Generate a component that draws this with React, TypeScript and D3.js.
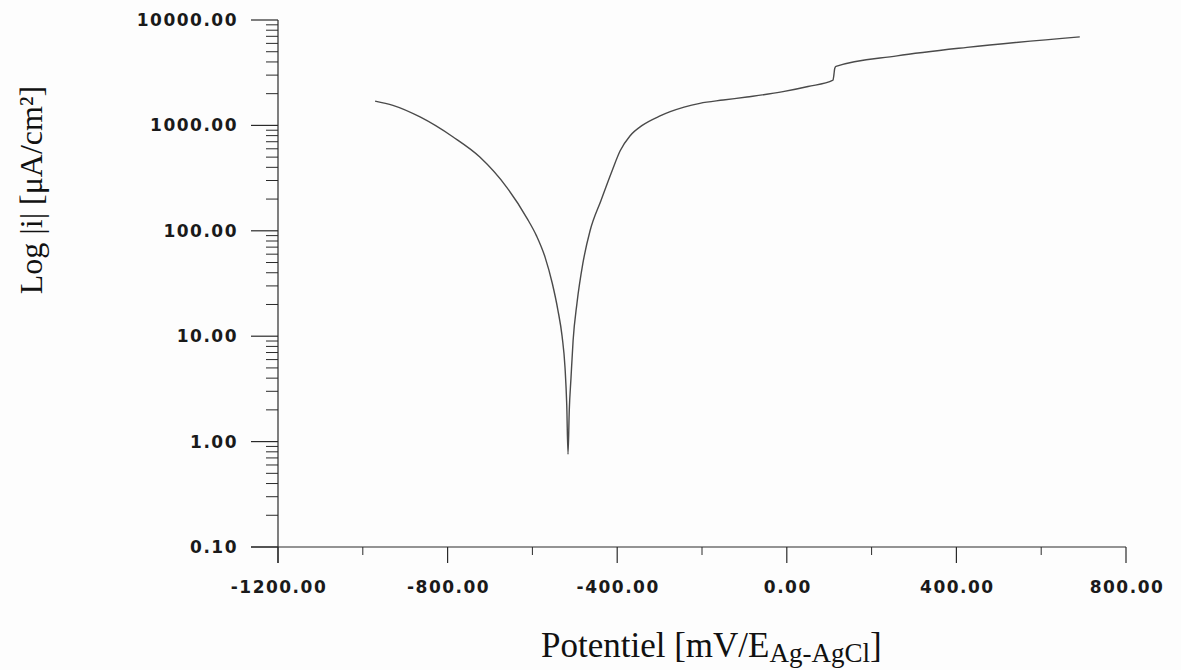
import React from "react";
import * as d3 from "d3";

// Potential (mV vs Ag/AgCl) and current density (µA/cm²)
const potential = [
  -971, -929, -865, -787, -724, -660, -613, -590, -570, -553, -540, -530, -523, -519, -516,
  -513, -509, -504, -495, -481, -464, -438, -412, -393, -370, -341,
  -299, -275, -205, -150, -94, -9, 50, 109, 111, 113, 116, 260, 425, 691,
];
const current = [
  1698, 1549, 1202, 776, 501, 257, 132, 89, 56, 31.6, 17.8, 10, 5.0, 2.24, 0.76,
  2.0, 4.0, 9.1, 20.4, 49, 100, 195, 372, 575, 794, 1000,
  1230, 1350, 1620, 1740, 1860, 2090, 2340, 2690, 3000, 3470, 3630, 4570, 5500, 6920,
];

const xMajorTicks = [-1200, -800, -400, 0, 400, 800];
const xMinorTicks = [-1000, -600, -200, 200, 600];
const yMajorTicks = [0.1, 1, 10, 100, 1000, 10000];

const W = 1181;
const H = 670;

export default function App() {
  const x = d3.scaleLinear().domain([-1200, 800]).range([278, 1126]);
  const y = d3.scaleLog().domain([0.1, 10000]).range([547, 20]);

  const yMinor: number[] = [];
  for (let i = 0; i < yMajorTicks.length - 1; i++) {
    for (let k = 2; k <= 9; k++) yMinor.push(yMajorTicks[i] * k);
  }

  const pts = potential.map((p, i) => [p, current[i]] as [number, number]);
  const line = d3
    .line<[number, number]>()
    .x((d) => x(d[0]))
    .y((d) => y(d[1]))
    .curve(d3.curveMonotoneX);

  const axisColor = "#2a2a2a";
  const tickFont = {
    fontFamily: "'DejaVu Sans', sans-serif",
    fontWeight: 700,
    fontSize: 17,
    letterSpacing: "1.5px",
    fill: "#1a1a1a",
  } as const;

  const fmt = (v: number) => v.toFixed(2);

  return (
    <svg
      width={W}
      height={H}
      style={{ position: "absolute", left: 0, top: 0, background: "#fdfdfd" }}
    >
      {/* y axis */}
      <line x1={x(-1200)} x2={x(-1200)} y1={y(10000)} y2={563} stroke={axisColor} strokeWidth={1.2} />
      {yMajorTicks.map((t) => (
        <g key={"ym" + t}>
          <line x1={251} x2={x(-1200)} y1={y(t)} y2={y(t)} stroke={axisColor} strokeWidth={1.2} />
          <text
            x={238}
            y={y(t)}
            textAnchor="end"
            dominantBaseline="central"
            {...tickFont}
          >
            {fmt(t)}
          </text>
        </g>
      ))}
      {yMinor.map((t, i) => (
        <line key={"yn" + i} x1={266} x2={x(-1200)} y1={y(t)} y2={y(t)} stroke={axisColor} strokeWidth={1} />
      ))}

      {/* x axis */}
      <line x1={251} x2={x(800)} y1={y(0.1)} y2={y(0.1)} stroke={axisColor} strokeWidth={1.2} />
      {xMajorTicks.map((t) => (
        <g key={"xm" + t}>
          <line x1={x(t)} x2={x(t)} y1={y(0.1)} y2={y(0.1) + 16} stroke={axisColor} strokeWidth={1.2} />
          <text x={x(t) + 1} y={593} textAnchor="middle" {...tickFont}>
            {fmt(t)}
          </text>
        </g>
      ))}
      {xMinorTicks.map((t) => (
        <line key={"xn" + t} x1={x(t)} x2={x(t)} y1={y(0.1)} y2={y(0.1) + 8} stroke={axisColor} strokeWidth={1} />
      ))}

      {/* curve */}
      <path d={line(pts) || ""} fill="none" stroke="#4a4a4a" strokeWidth={1.4} />

      {/* axis titles */}
      <text
        transform={`translate(42, 190) rotate(-90)`}
        textAnchor="middle"
        fontFamily="'Liberation Serif', 'Times New Roman', serif"
        fontSize={32}
        fill="#111"
      >
        Log |i| [μA/cm²]
      </text>
      <text
        x={541}
        y={657}
        fontFamily="'Liberation Serif', 'Times New Roman', serif"
        fontSize={35}
        fill="#111"
      >
        Potentiel [mV/E
        <tspan fontSize={27} dy={5}>Ag-AgCl</tspan>
        <tspan dy={-5}>]</tspan>
      </text>
    </svg>
  );
}
